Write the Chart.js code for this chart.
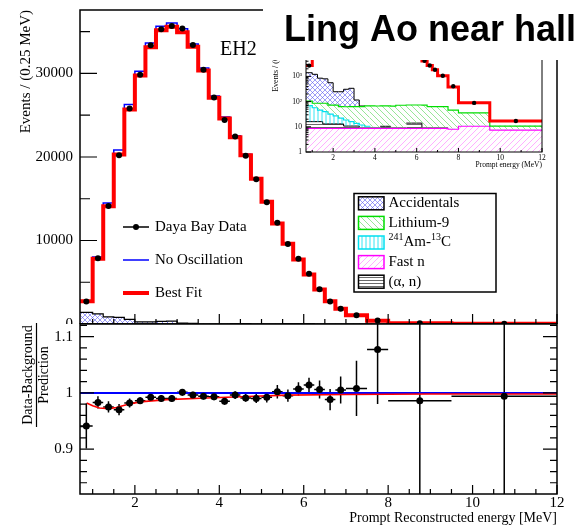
<!DOCTYPE html>
<html>
<head>
<meta charset="utf-8">
<title>Ling Ao near hall</title>
<script src="https://cdn.jsdelivr.net/npm/chart.js@4.4.1/dist/chart.umd.min.js"></script>
<style>
  html, body { margin: 0; padding: 0; background: #fff; }
  #wrap { position: relative; width: 582px; height: 526px; overflow: hidden; }
  #wrap canvas { position: absolute; left: 0; top: 0; }
</style>
</head>
<body>
<div id="wrap">
  <canvas id="mainChart" width="582" height="526"></canvas>
  <canvas id="ratioChart" width="582" height="526"></canvas>
  <canvas id="insetChart" width="582" height="526"></canvas>
</div>
<script>
// ---- values ----
// bin edges, MeV (0.25 MeV bins between 1 and 7 MeV)
const binEdges = [0.7, 1.0, 1.25, 1.5, 1.75, 2.0, 2.25, 2.5, 2.75, 3.0, 3.25, 3.5, 3.75,
  4.0, 4.25, 4.5, 4.75, 5.0, 5.25, 5.5, 5.75, 6.0, 6.25, 6.5, 6.75, 7.0, 7.5, 8.0, 9.5, 12.0];

// events / 0.25 MeV
const bestFit = [2730, 7800, 14100, 20300, 25700, 29760, 33150, 35190, 35600, 34950, 33200,
  30360, 27090, 24600, 22370, 20200, 17390, 14630, 12030, 9600, 7725, 5930, 4130, 2730, 1820,
  1050, 380, 90, 17];
const noOsc = [2755, 8030, 14500, 20840, 26280, 30270, 33650, 35650, 36030, 35340, 33540,
  30640, 27310, 24800, 22530, 20340, 17490, 14700, 12090, 9640, 7755, 5955, 4142, 2738, 1825,
  1053, 381, 90, 17];
const dayaBay = [2680, 7860, 14140, 20220, 25800, 29850, 33380, 35300, 35670, 35370, 33400,
  30450, 27120, 24430, 22440, 20160, 17320, 14590, 12110, 9590, 7810, 6030, 4170, 2700, 1835,
  1062, 405, 89, 17];

// backgrounds, events / 0.25 MeV (stacked in the plot)
const fastN = [8.7, 8.7, 8.7, 8.7, 8.7, 8.7, 8.7, 8.7, 8.7, 8.7, 8.7, 8.7, 8.7, 8.7, 8.7,
  8.7, 8.7, 8.7, 8.7, 8.7, 8.7, 8.7, 8.7, 8.7, 8.7, 8.7, 8.0, 10.5, 7.4];
const alphaN = [7.3, 7.3, 7.3, 4.3, 4.3, 4.3, 4.3, 2.0, 2.0, 2.0, 0.8, 0.8, 0.8, 0.8, 1.8,
  1.8, 0.8, 0.8, 0.8, 5.3, 5.3, 5.3, 0.8, 0.8, 0.8, 0.8, 0.3, 0.3, 0.3];
const amC = [53, 41, 30, 27, 19, 14, 9, 7.9, 5.3, 3.1, 2.3, 1.0, 0.6, 0.4, 0.3, 0.3, 0.2,
  0.2, 0.2, 0.2, 0.2, 0.2, 0.2, 0.2, 0.2, 0.2, 0.2, 0.2, 0.2];
const li9 = [36, 29, 40, 46, 41, 46, 41, 44, 47, 49, 51, 57, 57, 57, 57, 57, 56, 62, 62, 59,
  59, 59, 63, 53, 53, 53, 37, 25, 2.8];
const accid = [1295, 1124, 764, 714, 487, 173, 183, 246, 274, 53, 4, 0.3, 0.3, 0.3, 0.3, 0.3,
  0.3, 0.3, 0.3, 0.3, 0.3, 0.3, 0.3, 0.3, 0.3, 0.3, 0.3, 0.3, 0.3];

// (data - background) / prediction
const ratioData = [0.941, 0.983, 0.975, 0.970, 0.982, 0.986, 0.992, 0.990, 0.990, 1.001, 0.996,
  0.994, 0.993, 0.985, 0.996, 0.991, 0.990, 0.992, 1.002, 0.995, 1.007, 1.014, 1.006, 0.988,
  1.005, 1.008, 1.077, 0.986, 0.994];
const ratioErr = [0.040, 0.011, 0.010, 0.010, 0.008, 0.006, 0.006, 0.006, 0.006, 0.006, 0.006,
  0.006, 0.006, 0.006, 0.007, 0.007, 0.008, 0.009, 0.012, 0.011, 0.012, 0.013, 0.016, 0.019,
  0.024, 0.049, 0.097, 0.25, 0.25];
const fitE = [0.857, 1.0, 1.16, 1.4, 1.56, 1.8, 2.12, 2.75, 3.7, 4.5, 5.6, 7.0, 9.0, 12.0];
const fitR = [0.982, 0.977, 0.973, 0.972, 0.974, 0.979, 0.984, 0.988, 0.991, 0.993, 0.996,
  0.997, 0.998, 0.998];
const noOscRatio = 1;

// axes
const xMajor = [2, 4, 6, 8, 10, 12];
const mainYMajor = [0, 10000, 20000, 30000];
const mainYMinor = [5000, 15000, 25000, 35000];
const ratioYMajor = [0.9, 1.0, 1.1];
const insetYMajor = [1, 10, 100, 1000, 10000, 100000];
const insetYLabels = ['1', '10', '10\u00b2', '10\u00b3', '10\u2074', '10\u2075'];

const mainYTitle = 'Events / (0.25 MeV)';
const ratioTitleTop = 'Data-Background';
const ratioTitleBottom = 'Prediction';
const xTitle = 'Prompt Reconstructed energy [MeV]';
const insetXTitle = 'Prompt energy (MeV)';
const hallTitle = 'Ling Ao near hall';
const hallLabel = 'EH2';
const mainLegend = ['Daya Bay Data', 'No Oscillation', 'Best Fit'];
const bkgLegend = [
  { key: 'acc', edge: '#000', parts: [{ t: 'Accidentals' }] },
  { key: 'li9', edge: '#00dd00', parts: [{ t: 'Lithium-9' }] },
  { key: 'amc', edge: '#00e0f0', parts: [{ t: '241', sup: true }, { t: 'Am-' }, { t: '13', sup: true }, { t: 'C' }] },
  { key: 'fn', edge: '#ff00ff', parts: [{ t: 'Fast n' }] },
  { key: 'an', edge: '#000', parts: [{ t: '(\u03b1, n)' }] },
];

// ---- helpers ----
const W = 582, H = 526;
const SERIF = '"Liberation Serif", "Times New Roman", serif';
const binCenters = binEdges.slice(0, -1).map((e, i) => (e + binEdges[i + 1]) / 2);

function steps(vals) {
  const pts = vals.map((v, i) => ({ x: binEdges[i], y: v }));
  pts.push({ x: binEdges[binEdges.length - 1], y: vals[vals.length - 1] });
  return pts;
}
function points(vals) {
  return vals.map((v, i) => ({ x: binCenters[i], y: v }));
}
function addArr(a, b) {
  return a.map((v, i) => v + b[i]);
}
const fastNTop = fastN.slice();
const alphaNTop = addArr(fastNTop, alphaN);
const amCTop = addArr(alphaNTop, amC);
const li9Top = addArr(amCTop, li9);
const accidTop = addArr(li9Top, accid);

function range(from, to, step, skip) {
  const out = [];
  for (let v = from; v <= to + 1e-9; v += step) {
    const r = Math.round(v * 1000) / 1000;
    if (!skip.some((s) => Math.abs(s - r) < 1e-6)) out.push(r);
  }
  return out;
}

function hatch(ctx, kind, color, s, bg) {
  const c = document.createElement('canvas');
  c.width = s;
  c.height = s;
  const g = c.getContext('2d');
  if (bg) {
    g.fillStyle = bg;
    g.fillRect(0, 0, s, s);
  }
  g.strokeStyle = color;
  g.lineWidth = 0.8;
  g.beginPath();
  if (kind === '/' || kind === 'x') {
    g.moveTo(-1, s + 1); g.lineTo(s + 1, -1);
    g.moveTo(-1, 1); g.lineTo(1, -1);
    g.moveTo(s - 1, s + 1); g.lineTo(s + 1, s - 1);
  }
  if (kind === '\\' || kind === 'x') {
    g.moveTo(-1, -1); g.lineTo(s + 1, s + 1);
    g.moveTo(s - 1, -1); g.lineTo(s + 1, 1);
    g.moveTo(-1, s - 1); g.lineTo(1, s + 1);
  }
  if (kind === '|') { g.moveTo(s / 2, 0); g.lineTo(s / 2, s); }
  if (kind === '-') { g.moveTo(0, s / 2); g.lineTo(s, s / 2); }
  g.stroke();
  return ctx.createPattern(c, 'repeat');
}

function makePatterns(ctx) {
  return {
    acc: hatch(ctx, 'x', 'rgba(90,90,240,0.75)', 5, '#fff'),
    li9: hatch(ctx, '\\', '#7ee07e', 6),
    amc: hatch(ctx, '|', '#00e0f0', 4),
    fn: hatch(ctx, '/', '#ff9cff', 6),
    an: hatch(ctx, '-', '#444', 3),
  };
}

function outline(color, comp, thr) {
  return { borderColor: (c) => (comp[c.p0DataIndex] >= thr ? color : 'rgba(0,0,0,0)') };
}

function histDatasets(pat, o) {
  const common = { stepped: true, pointRadius: 0 };
  return [
    { data: points(dayaBay), showLine: false, pointRadius: o.dot, pointBackgroundColor: '#000',
      pointBorderWidth: 0, order: 0 },
    { ...common, data: steps(bestFit), borderColor: '#ff0000', borderWidth: o.red, fill: false, order: 1 },
    { ...common, data: steps(noOsc), borderColor: '#0000ff', borderWidth: o.blue, fill: false, order: 2 },
    { ...common, data: steps(accidTop), borderColor: '#000', borderWidth: o.bk, fill: '+1',
      backgroundColor: pat.acc, segment: outline('#000', accid, 1), order: 4 },
    { ...common, data: steps(li9Top), borderColor: '#00dd00', borderWidth: o.soft, fill: '+1',
      backgroundColor: pat.li9, order: 3 },
    { ...common, data: steps(amCTop), borderColor: '#00e0f0', borderWidth: o.soft, fill: '+1',
      backgroundColor: pat.amc, segment: outline('#00e0f0', amC, 1), order: 5 },
    { ...common, data: steps(alphaNTop), borderColor: '#000', borderWidth: o.bk, fill: '+1',
      backgroundColor: pat.an, segment: outline('#000', alphaN, 1), order: 6 },
    { ...common, data: steps(fastNTop), borderColor: '#ff00ff', borderWidth: o.soft, fill: 'start',
      backgroundColor: pat.fn, order: 7 },
  ];
}

function baseOptions(padding, yScale) {
  return {
    responsive: false,
    animation: false,
    devicePixelRatio: 1,
    events: [],
    layout: { padding },
    plugins: { legend: { display: false }, tooltip: { enabled: false } },
    scales: {
      x: { type: 'linear', min: 0.7, max: 12, display: false },
      y: yScale,
    },
  };
}

function ticksX(ctx, scale, vals, y0, len) {
  ctx.beginPath();
  vals.forEach((v) => {
    const px = scale.getPixelForValue(v);
    ctx.moveTo(px, y0);
    ctx.lineTo(px, y0 + len);
  });
  ctx.stroke();
}
function ticksY(ctx, scale, vals, x0, len) {
  ctx.beginPath();
  vals.forEach((v) => {
    const py = scale.getPixelForValue(v);
    ctx.moveTo(x0, py);
    ctx.lineTo(x0 + len, py);
  });
  ctx.stroke();
}
function rotatedText(ctx, text, x, y, align) {
  ctx.save();
  ctx.translate(x, y);
  ctx.rotate(-Math.PI / 2);
  ctx.textAlign = align;
  ctx.textBaseline = 'middle';
  ctx.fillText(text, 0, 0);
  ctx.restore();
}
function richText(ctx, parts, x, y) {
  ctx.textAlign = 'left';
  ctx.textBaseline = 'middle';
  parts.forEach((p) => {
    ctx.font = (p.sup ? '10px ' : '15px ') + SERIF;
    ctx.fillText(p.t, x, p.sup ? y - 5 : y);
    x += ctx.measureText(p.t).width;
  });
}

// ---- main spectrum ----
const mainCtx = document.getElementById('mainChart').getContext('2d');
const mainPat = makePatterns(mainCtx);

const mainDecor = {
  id: 'mainDecor',
  afterDraw(chart) {
    const { ctx, chartArea: a } = chart;
    const x = chart.scales.x, y = chart.scales.y;
    ctx.save();
    ctx.strokeStyle = '#000';
    ctx.lineWidth = 1.5;
    ctx.strokeRect(a.left, a.top, a.right - a.left, a.bottom - a.top);
    ctx.lineWidth = 1.2;
    ticksX(ctx, x, xMajor, a.bottom, -10);
    ticksX(ctx, x, range(1, 11.5, 0.5, xMajor), a.bottom, -5);
    ticksY(ctx, y, mainYMajor, a.left, 17);
    ticksY(ctx, y, mainYMinor, a.left, 10);

    ctx.fillStyle = '#000';
    ctx.font = '15px ' + SERIF;
    ctx.textAlign = 'right';
    ctx.textBaseline = 'middle';
    mainYMajor.forEach((v) => ctx.fillText(String(v), a.left - 7, y.getPixelForValue(v)));
    rotatedText(ctx, mainYTitle, 26, a.top, 'right');

    ctx.font = '20px ' + SERIF;
    ctx.textAlign = 'left';
    ctx.textBaseline = 'alphabetic';
    ctx.fillText(hallLabel, 220, 55);

    // legend: data / no oscillation / best fit
    const rows = [227, 260, 293];
    ctx.lineWidth = 1.5;
    ctx.strokeStyle = '#000';
    ctx.beginPath(); ctx.moveTo(123, rows[0]); ctx.lineTo(149, rows[0]); ctx.stroke();
    ctx.beginPath(); ctx.arc(136, rows[0], 3, 0, Math.PI * 2); ctx.fill();
    ctx.strokeStyle = '#0000ff';
    ctx.beginPath(); ctx.moveTo(123, rows[1]); ctx.lineTo(149, rows[1]); ctx.stroke();
    ctx.strokeStyle = '#ff0000';
    ctx.lineWidth = 4;
    ctx.beginPath(); ctx.moveTo(123, rows[2]); ctx.lineTo(149, rows[2]); ctx.stroke();
    ctx.font = '15px ' + SERIF;
    ctx.textBaseline = 'middle';
    mainLegend.forEach((t, i) => ctx.fillText(t, 155, rows[i]));

    // legend: backgrounds
    ctx.lineWidth = 1.5;
    ctx.strokeStyle = '#000';
    ctx.strokeRect(354, 193.5, 142, 98.5);
    bkgLegend.forEach((item, i) => {
      const cy = 203.3 + i * 19.6;
      ctx.fillStyle = mainPat[item.key];
      ctx.fillRect(358.5, cy - 6.5, 25.5, 13);
      ctx.strokeStyle = item.edge;
      ctx.strokeRect(358.5, cy - 6.5, 25.5, 13);
      ctx.fillStyle = '#000';
      richText(ctx, item.parts, 388.5, cy);
    });
    ctx.restore();
  },
};

new Chart(mainCtx, {
  type: 'line',
  data: { datasets: histDatasets(mainPat, { dot: 3, red: 4, blue: 1.5, bk: 1.2, soft: 0 }) },
  options: baseOptions({ left: 80, top: 10, right: 25, bottom: 202 },
    { type: 'linear', min: 0, max: 37600, display: false }),
  plugins: [mainDecor],
});

// ---- ratio panel ----
const ratioCtx = document.getElementById('ratioChart').getContext('2d');

const ratioDecor = {
  id: 'ratioDecor',
  beforeDraw(chart) {
    const { ctx, chartArea: a } = chart;
    ctx.save();
    ctx.fillStyle = '#fff';
    ctx.fillRect(0, a.top, W, H - a.top);
    ctx.restore();
  },
  beforeDatasetsDraw(chart) {
    const { ctx, chartArea: a } = chart;
    const x = chart.scales.x, y = chart.scales.y;
    ctx.save();
    ctx.beginPath();
    ctx.rect(a.left, a.top, a.right - a.left, a.bottom - a.top);
    ctx.clip();
    ctx.strokeStyle = '#000';
    ctx.lineWidth = 1.5;
    ctx.beginPath();
    ratioData.forEach((r, i) => {
      const px = x.getPixelForValue(binCenters[i]);
      const py = y.getPixelForValue(r);
      ctx.moveTo(px, y.getPixelForValue(r - ratioErr[i]));
      ctx.lineTo(px, y.getPixelForValue(r + ratioErr[i]));
      ctx.moveTo(x.getPixelForValue(binEdges[i]), py);
      ctx.lineTo(x.getPixelForValue(binEdges[i + 1]), py);
    });
    ctx.stroke();
    ctx.restore();
  },
  afterDraw(chart) {
    const { ctx, chartArea: a } = chart;
    const x = chart.scales.x, y = chart.scales.y;
    const yMinor = range(0.84, 1.12, 0.02, ratioYMajor);
    ctx.save();
    ctx.strokeStyle = '#000';
    ctx.lineWidth = 1.5;
    ctx.strokeRect(a.left, a.top, a.right - a.left, a.bottom - a.top);
    ctx.lineWidth = 1.2;
    ticksX(ctx, x, xMajor, a.bottom, -9);
    ticksX(ctx, x, range(1, 11.5, 0.5, xMajor), a.bottom, -5);
    ticksY(ctx, y, ratioYMajor, a.left, 14);
    ticksY(ctx, y, yMinor, a.left, 7);
    ticksY(ctx, y, ratioYMajor, a.right, -14);
    ticksY(ctx, y, yMinor, a.right, -7);

    ctx.fillStyle = '#000';
    ctx.font = '15px ' + SERIF;
    ctx.textAlign = 'right';
    ctx.textBaseline = 'middle';
    ratioYMajor.forEach((v) => ctx.fillText(String(v), a.left - 7, y.getPixelForValue(v)));
    ctx.textAlign = 'center';
    xMajor.forEach((v) => ctx.fillText(String(v), x.getPixelForValue(v), 503));

    ctx.font = '14px ' + SERIF;
    ctx.textAlign = 'right';
    ctx.fillText(xTitle, a.right, 518);
    rotatedText(ctx, ratioTitleTop, 28, 375, 'center');
    rotatedText(ctx, ratioTitleBottom, 44.5, 375, 'center');
    ctx.lineWidth = 1.2;
    ctx.beginPath();
    ctx.moveTo(36.5, 323);
    ctx.lineTo(36.5, 427);
    ctx.stroke();
    ctx.restore();
  },
};

new Chart(ratioCtx, {
  type: 'line',
  data: {
    datasets: [
      { data: points(ratioData), showLine: false, pointRadius: 3.5, pointBackgroundColor: '#000',
        pointBorderWidth: 0 },
      { data: fitE.map((e, i) => ({ x: e, y: fitR[i] })), borderColor: '#ff0000', borderWidth: 1.6,
        pointRadius: 0, fill: false },
      { data: [{ x: 0.7, y: noOscRatio }, { x: 12, y: noOscRatio }], borderColor: '#0000ff',
        borderWidth: 2, pointRadius: 0, fill: false },
    ],
  },
  options: baseOptions({ left: 80, top: 324, right: 25, bottom: 32 },
    { type: 'linear', min: 0.82, max: 1.1226, display: false }),
  plugins: [ratioDecor],
});

// ---- inset, log scale ----
const insetCtx = document.getElementById('insetChart').getContext('2d');
const insetPat = makePatterns(insetCtx);

const insetDecor = {
  id: 'insetDecor',
  afterDraw(chart) {
    const { ctx, chartArea: a } = chart;
    const x = chart.scales.x, y = chart.scales.y;
    const logMinor = [];
    insetYMajor.slice(0, -1).forEach((d) => {
      for (let m = 2; m <= 9; m++) logMinor.push(m * d);
    });
    ctx.save();
    ctx.strokeStyle = '#000';
    ctx.lineWidth = 1;
    ctx.strokeRect(a.left, a.top, a.right - a.left, a.bottom - a.top);
    ticksX(ctx, x, xMajor, a.bottom, -4);
    ticksX(ctx, x, range(1, 11, 1, xMajor), a.bottom, -2);
    ticksY(ctx, y, insetYMajor, a.left, 5);
    ticksY(ctx, y, logMinor, a.left, 2.5);

    ctx.fillStyle = '#000';
    ctx.font = '7.5px ' + SERIF;
    ctx.textAlign = 'right';
    ctx.textBaseline = 'middle';
    insetYMajor.forEach((v, i) => ctx.fillText(insetYLabels[i], a.left - 4, y.getPixelForValue(v)));
    ctx.textAlign = 'center';
    xMajor.forEach((v) => ctx.fillText(String(v), x.getPixelForValue(v), a.bottom + 6));
    ctx.textAlign = 'right';
    ctx.fillText(insetXTitle, a.right, a.bottom + 13);
    ctx.font = '8px ' + SERIF;
    rotatedText(ctx, mainYTitle, 276, a.top, 'right');

    // title box over the top of both frames
    ctx.fillStyle = '#fff';
    ctx.fillRect(263, 0, W - 263, 60);
    ctx.fillStyle = '#000';
    ctx.font = 'bold 36px "Liberation Sans", Arial, sans-serif';
    ctx.textAlign = 'left';
    ctx.textBaseline = 'alphabetic';
    ctx.fillText(hallTitle, 284, 40.5);
    ctx.restore();
  },
};

new Chart(insetCtx, {
  type: 'line',
  data: { datasets: histDatasets(insetPat, { dot: 2.2, red: 3, blue: 1, bk: 1, soft: 1.2 }) },
  options: baseOptions({ left: 306, top: 26, right: 40, bottom: 374 },
    { type: 'logarithmic', min: 1, max: 100000, display: false }),
  plugins: [insetDecor],
});
</script>
</body>
</html>
